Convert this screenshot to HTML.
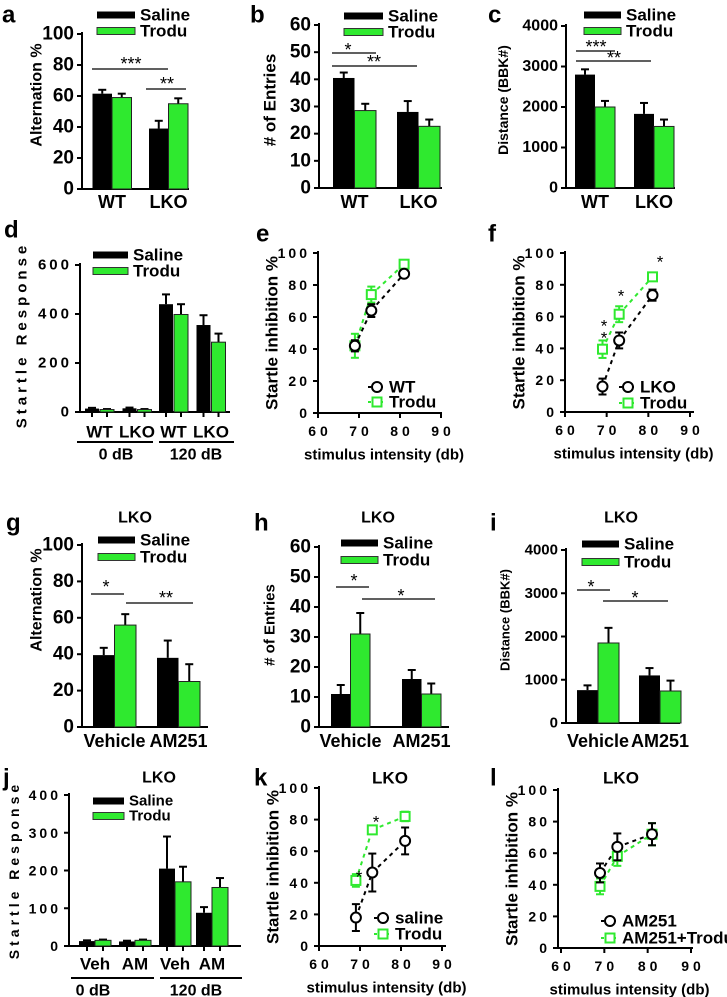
<!DOCTYPE html>
<html><head><meta charset="utf-8"><title>Figure</title>
<style>
html,body{margin:0;padding:0;background:#fff;}
svg{display:block;font-family:"Liberation Sans",sans-serif;}
</style></head>
<body>
<svg id="fig" width="727" height="997" viewBox="0 0 727 997" xmlns="http://www.w3.org/2000/svg"></svg>
<script>
// ===== data arrays =====
const aCategories = ["WT","LKO"];
const aSaline = [61.5, 39];
const aSalineErr = [2.5, 5];
const aTrodu = [59, 55];
const aTroduErr = [2.5, 3.5];

const bCategories = ["WT","LKO"];
const bSaline = [40.5, 28];
const bSalineErr = [2, 4];
const bTrodu = [28.5, 22.7];
const bTroduErr = [2.5, 2.5];

const cCategories = ["WT","LKO"];
const cSaline = [2800, 1830];
const cSalineErr = [130, 270];
const cTrodu = [2000, 1520];
const cTroduErr = [150, 170];

const dCategories = ["WT","LKO","WT","LKO"];
const dSaline = [14, 15, 440, 355];
const dSalineErr = [3, 3, 40, 40];
const dTrodu = [10, 10, 398, 285];
const dTroduErr = [2, 2, 42, 35];

const eIntensity = [69, 73, 81];
const eWT = [42, 64, 87];
const eWTErr = [3.5, 4, 1.5];
const eTrodu = [42, 74, 93];
const eTroduErr = [7.5, 5, 1.5];

const fIntensity = [69, 73, 81];
const fLKO = [16, 45, 73.5];
const fLKOErr = [5, 5, 3.5];
const fTrodu = [39.5, 61.5, 85];
const fTroduErr = [5.5, 5, 2.5];

const gCategories = ["Vehicle","AM251"];
const gSaline = [39.5, 38];
const gSalineErr = [4, 9.5];
const gTrodu = [56, 25];
const gTroduErr = [6, 9.5];

const hCategories = ["Vehicle","AM251"];
const hSaline = [11, 16];
const hSalineErr = [3, 3];
const hTrodu = [31, 11];
const hTroduErr = [7, 3.5];

const iCategories = ["Vehicle","AM251"];
const iSaline = [760, 1100];
const iSalineErr = [110, 170];
const iTrodu = [1850, 740];
const iTroduErr = [350, 240];

const jCategories = ["Veh","AM","Veh","AM"];
const jSaline = [13, 12, 205, 88];
const jSalineErr = [2, 2, 85, 15];
const jTrodu = [15, 15, 170, 155];
const jTroduErr = [2, 2, 40, 25];

const kIntensity = [69, 73, 81];
const kSaline = [18, 46.5, 66.5];
const kSalineErr = [8.5, 12, 8.5];
const kTrodu = [41.5, 73.5, 82];
const kTroduErr = [4, 2, 3];

const lIntensity = [69, 73, 81];
const lAM = [47.5, 64, 72];
const lAMErr = [6, 8.5, 7];
const lTrodu = [39, 58, 72];
const lTroduErr = [5, 6, 7];

// ===== drawing helpers =====
const NS = "http://www.w3.org/2000/svg";
const svg = document.getElementById('fig');
const GREEN = "#2fe92f";
function mk(tag, attrs, name, parent){
  const el = document.createElementNS(NS, tag);
  for (const k in attrs) el.setAttribute(k, attrs[k]);
  
  
  (parent || svg).appendChild(el);
  return el;
}
function line(x1,y1,x2,y2,name,w,col,dash){
  const a = {x1:x1,y1:y1,x2:x2,y2:y2,stroke:col||"#000","stroke-width":w||2};
  if (dash) a["stroke-dasharray"] = dash;
  return mk("line", a, name);
}
function txt(x,y,s,name,o){
  o = o || {};
  const a = {x:x,y:y,"font-size":o.size||16,"font-weight":o.weight||"bold","text-anchor":o.anchor||"middle","dominant-baseline":"central",fill:"#000"};
  if (o.family) a["font-family"] = o.family;
  if (o.ls) a["letter-spacing"] = o.ls;
  if (o.rot) a.transform = "rotate(-90 " + x + " " + y + ")";
  const t = mk("text", a, name);
  t.textContent = s;
  return t;
}
const NARROW = '"Liberation Sans Narrow","Liberation Sans",sans-serif';

function legendBars(x, y1, y2, w, size){
  mk("rect",{x:x,y:y1-3.5,width:w,height:7,fill:"#000"},"legend-saline-swatch");
  txt(x+w+5, y1, "Saline", "legend-saline-label", {anchor:"start", size:size||17, family:NARROW});
  mk("rect",{x:x,y:y2-3.5,width:w,height:7,fill:GREEN,stroke:"#333","stroke-width":1},"legend-trodu-swatch");
  txt(x+w+5, y2, "Trodu", "legend-trodu-label", {anchor:"start", size:size||17, family:NARROW});
}

function barPanel(p){
  const ys = v => p.y0 - v / p.yMax * (p.y0 - p.yTop);
  line(p.ax, p.y0, p.ax, p.yTop - 2, "y-axis");
  line(p.ax, p.y0, p.xEnd, p.y0, "x-axis");
  for (let v = 0; v <= p.yMax; v += p.step){
    line(p.ax - 5, ys(v), p.ax, ys(v), "y-tick", 2);
    txt(p.ax - 8, ys(v), String(v), "y-tick-label", {anchor:"end", size:p.tickSize, family:p.tickLs?undefined:NARROW, ls:p.tickLs});
  }
  p.cats.forEach((c, i) => {
    const left = p.first + i * p.pitch + (p.extra ? p.extra[i] : 0);
    const xs = left, xt = left + p.bw + p.gap;
    const vs = [p.sal[i], p.tro[i]], es = [p.salE[i], p.troE[i]], xx = [xs, xt];
    [0,1].forEach(k => {
      const cx = xx[k] + p.bw / 2, top = ys(vs[k]), et = ys(vs[k] + es[k]);
      line(cx, top, cx, et, k ? "error-bar-trodu" : "error-bar-saline", 2);
      line(cx - 4, et, cx + 4, et, "error-cap", 2);
      mk("rect",{x:xx[k], y:top, width:p.bw, height:p.y0 - top, fill:k?GREEN:"#000", stroke:"#222","stroke-width":k?1:0}, k ? "bar-trodu-" + c.toLowerCase() : "bar-saline-" + c.toLowerCase());
      if (p.tickDown){ line(cx, p.y0, cx, p.y0 + 5, "x-tick", 2); }
    });
    txt(left + p.bw + p.gap / 2, p.catY, c, "x-category-label", {size:p.catSize||18, family:NARROW});
  });
}

function scatPanel(p){
  const ys = v => p.y0 - v / 100 * (p.y0 - p.yTop);
  const xs = v => p.x60 + (v - 60) / 30 * (p.x90 - p.x60);
  line(p.ax, p.y0, p.ax, p.yTop - 2, "y-axis");
  line(p.ax, p.y0, p.xEnd, p.y0, "x-axis");
  for (let v = 0; v <= 100; v += 20){
    line(p.ax - 5, ys(v), p.ax, ys(v), "y-tick", 2);
    txt(p.ax - 8, ys(v), String(v), "y-tick-label", {anchor:"end", size:14, ls:3});
  }
  for (let v = 60; v <= 90; v += 10){
    line(xs(v), p.y0, xs(v), p.y0 + 5, "x-tick", 2);
    txt(xs(v) + 2, p.y0 + 18, String(v), "x-tick-label", {size:14, ls:4});
  }
  txt((p.ax + p.xEnd) / 2 + 4, p.y0 + 42, "stimulus intensity (db)", "x-axis-title", {size:15, family:NARROW});
  txt(p.ax - 46, (p.y0 + p.yTop) / 2, "Startle inhibition %", "y-axis-title", {size:17, rot:true});
  const s = [p.s1, p.s2], e = [p.e1, p.e2];
  [1,0].forEach(k => {
    const col = k ? GREEN : "#000";
    for (let i = 0; i < p.x.length - 1; i++)
      line(xs(p.x[i]), ys(s[k][i]), xs(p.x[i+1]), ys(s[k][i+1]), k ? "trodu-line" : "control-line", 2, col, "4 4");
  });
  [1,0].forEach(k => {
    const col = k ? GREEN : "#000";
    p.x.forEach((xv, i) => {
      const cx = xs(xv), cy = ys(s[k][i]);
      line(cx, ys(s[k][i] - e[k][i]), cx, ys(s[k][i] + e[k][i]), "error-bar", 2, col);
      line(cx - 4, ys(s[k][i] - e[k][i]), cx + 4, ys(s[k][i] - e[k][i]), "error-cap", 2, col);
      line(cx - 4, ys(s[k][i] + e[k][i]), cx + 4, ys(s[k][i] + e[k][i]), "error-cap", 2, col);
      if (k) mk("rect",{x:cx-4.5,y:cy-4.5,width:9,height:9,fill:"#fff",stroke:col,"stroke-width":2},"point-trodu");
      else mk("circle",{cx:cx,cy:cy,r:5,fill:"#fff",stroke:"#000","stroke-width":2},"point-control");
    });
  });
  line(p.lx - 9, p.ly1, p.lx + 9, p.ly1, "legend-line", 2, "#000", "3 3");
  mk("circle",{cx:p.lx,cy:p.ly1,r:5,fill:"#fff",stroke:"#000","stroke-width":2},"legend-control-marker");
  txt(p.lx + 12, p.ly1, p.n1, "legend-control-label", {anchor:"start", size:17, family:NARROW});
  line(p.lx - 9, p.ly2, p.lx + 9, p.ly2, "legend-line", 2, GREEN, "3 3");
  mk("rect",{x:p.lx-4.5,y:p.ly2-4.5,width:9,height:9,fill:"#fff",stroke:GREEN,"stroke-width":2},"legend-trodu-marker");
  txt(p.lx + 12, p.ly2, p.n2, "legend-trodu-label", {anchor:"start", size:17, family:NARROW});
}
function sig(x1, x2, y, stars, name, sx, sy){
  line(x1, y, x2, y, name + "-line", 1.2);
  txt(sx, sy + 3, stars, name + "-stars", {size:18, weight:"normal"});
}
function plabel(x, y, s){ txt(x, y, s, "panel-label-" + s, {size:24, anchor:"start", family:NARROW}); }

// ===== panel a =====
plabel(2, 15, "a");
barPanel({ax:82,y0:189,yTop:34,yMax:100,step:20,tickSize:19,first:92.5,pitch:56.5,bw:19.5,gap:0,xEnd:189,catY:202,cats:aCategories,sal:aSaline,salE:aSalineErr,tro:aTrodu,troE:aTroduErr});
txt(37, 95, "Alternation %", "y-axis-title", {size:16, rot:true});
legendBars(97, 15, 31, 38);
sig(92, 168, 69, "***", "sig-a1", 131, 61);
sig(146, 186, 89, "**", "sig-a2", 167, 81);

// ===== panel b =====
plabel(250, 15, "b");
barPanel({ax:319,y0:188,yTop:25,yMax:60,step:10,tickSize:19,first:333,pitch:64,bw:21.5,gap:0,xEnd:442,catY:202,cats:bCategories,sal:bSaline,salE:bSalineErr,tro:bTrodu,troE:bTroduErr});
txt(270, 100, "# of Entries", "y-axis-title", {size:17, rot:true});
legendBars(344, 16, 32, 39);
sig(332, 376, 53, "*", "sig-b1", 348, 47);
sig(332, 417, 66, "**", "sig-b2", 374, 59);

// ===== panel c =====
plabel(488, 15, "c");
barPanel({ax:566,y0:188,yTop:26,yMax:4000,step:1000,tickSize:16,first:575,pitch:59,bw:20,gap:0,xEnd:675,catY:202,cats:cCategories,sal:cSaline,salE:cSalineErr,tro:cTrodu,troE:cTroduErr});
txt(503, 100, "Distance (BBK#)", "y-axis-title", {size:14, rot:true});
legendBars(584, 15, 31, 37);
sig(576, 615, 51, "***", "sig-c1", 596, 44);
sig(576, 651, 61, "**", "sig-c2", 614, 55);

// ===== panel d =====
plabel(4, 230, "d");
barPanel({ax:80,y0:412,yTop:265,yMax:600,step:200,tickSize:15,tickLs:3,first:85,pitch:37.5,bw:14,gap:1,xEnd:230,extra:[0,0,-1,-1],catY:432,catSize:17,tickDown:true,cats:dCategories,sal:dSaline,salE:dSalineErr,tro:dTrodu,troE:dTroduErr});
txt(22, 335, "Startle Response", "y-axis-title", {size:15, rot:true, ls:4});
legendBars(93, 255, 271, 35);
line(77, 442, 153, 442, "group-line-0db", 2);
line(159, 442, 234, 442, "group-line-120db", 2);
txt(116, 455, "0 dB", "group-label-0db", {size:16, family:NARROW});
txt(196, 455, "120 dB", "group-label-120db", {size:16, family:NARROW});

// ===== panel e =====
plabel(256, 234, "e");
scatPanel({ax:318,y0:413,yTop:253,x60:318,x90:441,xEnd:442,x:eIntensity,s1:eWT,e1:eWTErr,s2:eTrodu,e2:eTroduErr,lx:377,ly1:387,ly2:402,n1:"WT",n2:"Trodu"});

// ===== panel f =====
plabel(488, 234, "f");
scatPanel({ax:565,y0:412,yTop:253,x60:565,x90:690,xEnd:694,x:fIntensity,s1:fLKO,e1:fLKOErr,s2:fTrodu,e2:fTroduErr,lx:628,ly1:387,ly2:403,n1:"LKO",n2:"Trodu"});
txt(604, 326, "*", "sig-f1a", {size:17, weight:"normal"});
txt(604, 338, "*", "sig-f1b", {size:17, weight:"normal"});
txt(621, 296, "*", "sig-f2", {size:17, weight:"normal"});
txt(660, 262, "*", "sig-f3", {size:17, weight:"normal"});

// ===== panel g =====
plabel(6, 523, "g");
txt(135, 518, "LKO", "title-g", {size:16, family:NARROW});
barPanel({ax:82,y0:727,yTop:545,yMax:100,step:20,tickSize:19,first:93,pitch:64,bw:21.5,gap:0,xEnd:208,catY:741,cats:gCategories,sal:gSaline,salE:gSalineErr,tro:gTrodu,troE:gTroduErr});
txt(37, 600, "Alternation %", "y-axis-title", {size:16, rot:true});
legendBars(98, 540, 557, 37);
sig(91, 124, 594, "*", "sig-g1", 106, 584);
sig(126, 193, 603, "**", "sig-g2", 166, 595);

// ===== panel h =====
plabel(254, 523, "h");
txt(378, 518, "LKO", "title-h", {size:16, family:NARROW});
barPanel({ax:319,y0:727,yTop:547,yMax:60,step:10,tickSize:19,first:331,pitch:71,bw:19.5,gap:0,xEnd:449,catY:741,cats:hCategories,sal:hSaline,salE:hSalineErr,tro:hTrodu,troE:hTroduErr});
txt(270, 625, "# of Entries", "y-axis-title", {size:15, rot:true});
legendBars(341, 543, 560, 37);
sig(336, 369, 587, "*", "sig-h1", 354, 578);
sig(362, 435, 599, "*", "sig-h2", 401, 593);

// ===== panel i =====
plabel(490, 523, "i");
txt(621, 518, "LKO", "title-i", {size:16, family:NARROW});
barPanel({ax:566,y0:723,yTop:550,yMax:4000,step:1000,tickSize:15,first:577,pitch:62,bw:21,gap:0,xEnd:680,catY:741,cats:iCategories,sal:iSaline,salE:iSalineErr,tro:iTrodu,troE:iTroduErr});
txt(505, 620, "Distance (BBK#)", "y-axis-title", {size:13, rot:true});
legendBars(582, 544, 562, 37);
sig(577, 610, 590, "*", "sig-i1", 591, 584);
sig(603, 668, 601, "*", "sig-i2", 635, 595);

// ===== panel j =====
plabel(3, 778, "j");
txt(159, 778, "LKO", "title-j", {size:16, family:NARROW});
barPanel({ax:69,y0:946,yTop:795,yMax:400,step:100,tickSize:14,tickLs:3,first:79,pitch:40,bw:16,gap:0,xEnd:241,extra:[0,0,0,-3],catY:964,catSize:17,tickDown:true,cats:jCategories,sal:jSaline,salE:jSalineErr,tro:jTrodu,troE:jTroduErr});
txt(14, 870, "Startle Response", "y-axis-title", {size:14, rot:true, ls:4});
legendBars(93, 801, 816, 31, 15);
line(71, 978, 154, 978, "group-line-0db", 2);
line(160, 978, 242, 978, "group-line-120db", 2);
txt(93, 991, "0 dB", "group-label-0db", {size:16, family:NARROW});
txt(196, 991, "120 dB", "group-label-120db", {size:16, family:NARROW});

// ===== panel k =====
plabel(254, 778, "k");
txt(390, 778, "LKO", "title-k", {size:17, family:NARROW});
scatPanel({ax:319,y0:946,yTop:788,x60:319,x90:442,xEnd:446,x:kIntensity,s1:kSaline,e1:kSalineErr,s2:kTrodu,e2:kTroduErr,lx:383,ly1:918,ly2:934,n1:"saline",n2:"Trodu"});
txt(359, 877, "*", "sig-k1", {size:17, weight:"normal"});
txt(376, 822, "*", "sig-k2", {size:17, weight:"normal"});

// ===== panel l =====
plabel(490, 778, "l");
txt(621, 778, "LKO", "title-l", {size:17, family:NARROW});
scatPanel({ax:558,y0:948,yTop:790,x60:561,x90:691,xEnd:693,x:lIntensity,s1:lAM,e1:lAMErr,s2:lTrodu,e2:lTroduErr,lx:610,ly1:921,ly2:938,n1:"AM251",n2:"AM251+Trodu"});
</script>
</body></html>
